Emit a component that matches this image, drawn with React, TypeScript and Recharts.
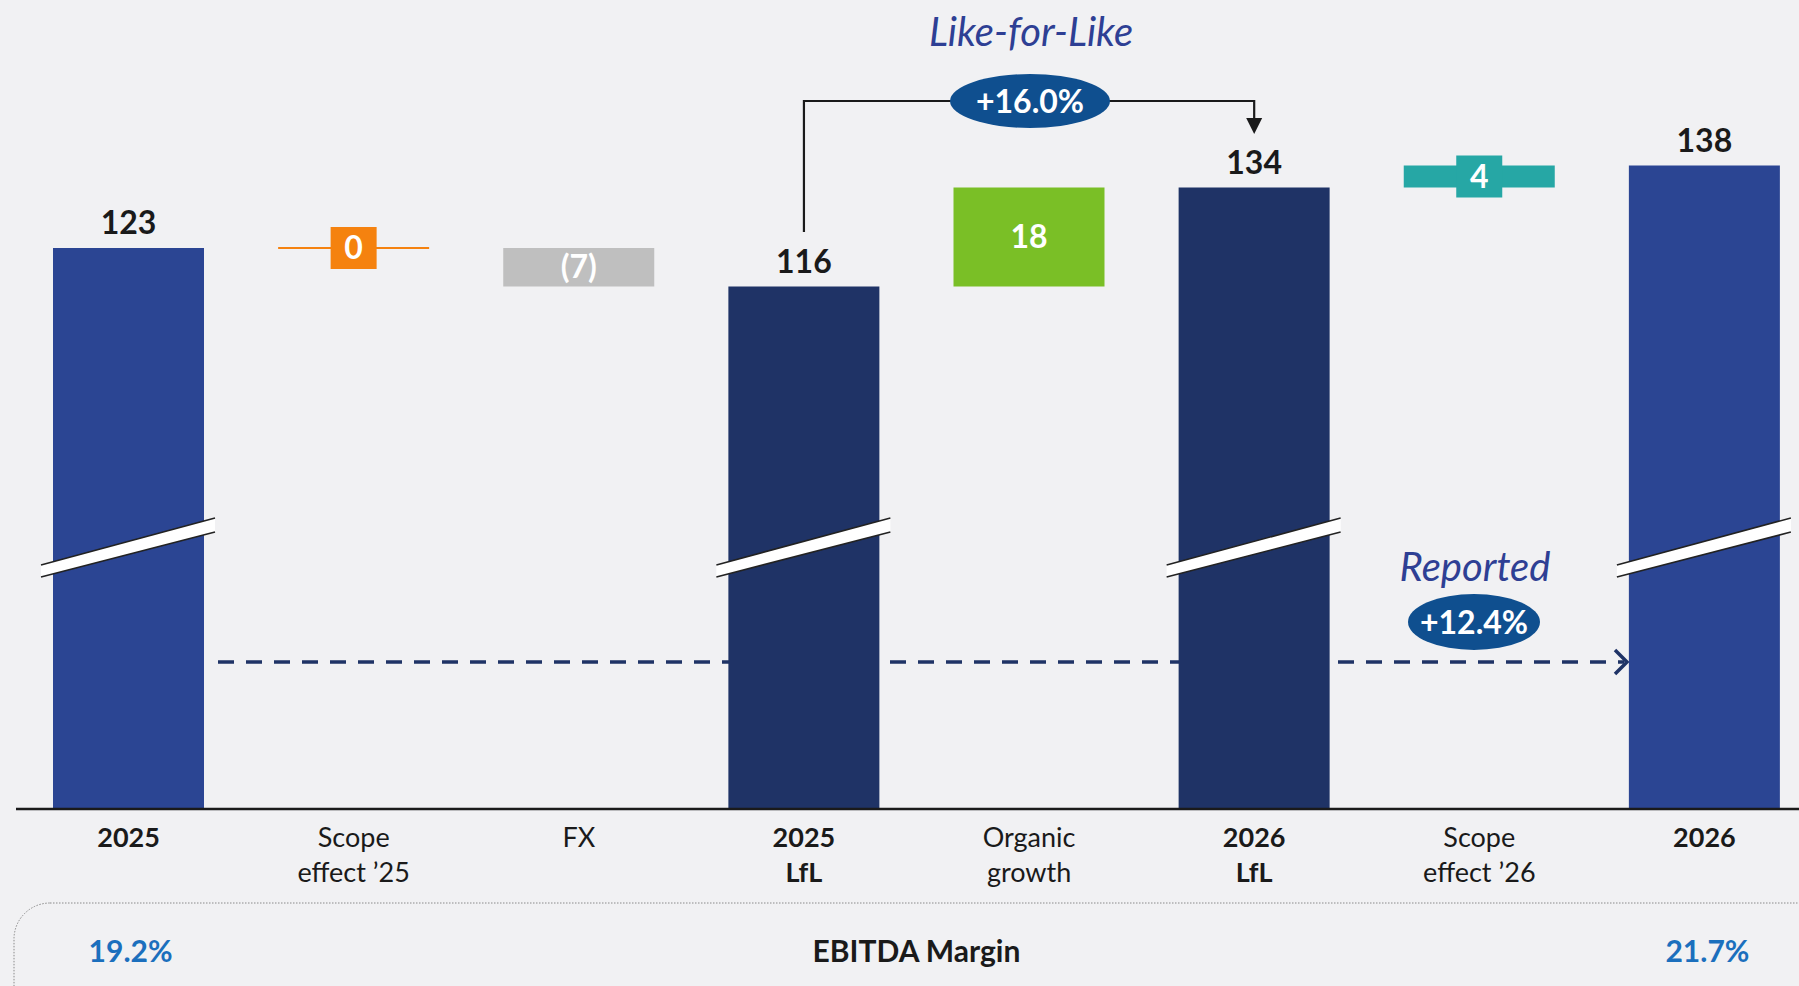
import React from "react";
import { ComposedChart, Bar, XAxis, YAxis } from "recharts";

// EBITDA bridge 2025 -> 2026
const categories = [
  "2025",
  "Scope effect ’25",
  "FX",
  "2025 LfL",
  "Organic growth",
  "2026 LfL",
  "Scope effect ’26",
  "2026",
];
const values = [123, 0, -7, 116, 18, 134, 4, 138];
// total = full column, step = floating bridge piece, scope = bridge piece with boxed label
const barKinds = ["total", "scope", "step", "total", "step", "total", "scope", "total"];
const barColors = ["#2b4593", "#f5820f", "#bfbfbf", "#1f3366", "#7abf26", "#1f3366", "#26a7a5", "#2b4593"];
const marginLabels = ["19.2%", "EBITDA Margin", "21.7%"];
const lflGrowth = "+16.0%";
const reportedGrowth = "+12.4%";

// build the stacked table: invisible base + visible piece
let running = 0;
const data = categories.map((name, i) => {
  const v = values[i];
  const kind = barKinds[i];
  if (kind === "total") {
    running = v;
    return { name, kind, base: 0, size: v, color: barColors[i], label: String(v) };
  }
  const start = running;
  running += v;
  return {
    name,
    kind,
    base: Math.min(start, running),
    size: Math.abs(v),
    color: barColors[i],
    label: v < 0 ? `(${-v})` : String(v),
  };
});

const W = 1830;
const H = 986;
const FONT = "Lato, 'Open Sans', sans-serif";
const PLOT_LEFT = 16;
const PLOT_RIGHT = 13;
const BAND = (W - PLOT_LEFT - PLOT_RIGHT) / categories.length;
const center = (i: number) => PLOT_LEFT + (i + 0.5) * BAND;
const BREAK_Y = 548;
const INK = "#1a1a1a";

const BridgeBar = (props: any) => {
  const { x, y, width, height, index } = props;
  const d = data[index] ?? props.payload;
  const cx = x + width / 2;
  const cy = y + height / 2;

  if (d.kind === "total") {
    const l = x - 12;
    const r = x + width + 11;
    return (
      <g>
        <rect x={x} y={y} width={width} height={height} fill={d.color} />
        <polygon points={`${l},${BREAK_Y + 17} ${r},${BREAK_Y - 30} ${r},${BREAK_Y - 16} ${l},${BREAK_Y + 29}`} fill="#ffffff" />
        <line x1={l} y1={BREAK_Y + 17} x2={r} y2={BREAK_Y - 30} stroke="#222" strokeWidth={1.6} />
        <line x1={l} y1={BREAK_Y + 29} x2={r} y2={BREAK_Y - 16} stroke="#222" strokeWidth={1.6} />
        <text x={cx} y={y - 14} textAnchor="middle" fontFamily={FONT} fontWeight={700} fontSize={32} fill={INK}>
          {d.label}
        </text>
      </g>
    );
  }

  if (d.kind === "scope") {
    return (
      <g>
        {height > 0 ? (
          <rect x={x} y={y} width={width} height={height} fill={d.color} />
        ) : (
          <line x1={x} y1={y} x2={x + width} y2={y} stroke={d.color} strokeWidth={2} />
        )}
        <rect x={cx - 23} y={cy - 21} width={46} height={42} fill={d.color} />
        <text x={cx} y={cy + 11} textAnchor="middle" fontFamily={FONT} fontWeight={700} fontSize={32} fill="#ffffff">
          {d.label}
        </text>
      </g>
    );
  }

  return (
    <g>
      <rect x={x} y={y} width={width} height={height} fill={d.color} />
      <text x={cx} y={cy + 11} textAnchor="middle" fontFamily={FONT} fontWeight={700} fontSize={32} fill="#ffffff">
        {d.label}
      </text>
    </g>
  );
};

const CategoryTick = (props: any) => {
  const { x, y, payload } = props;
  const name: string = payload.value;
  const i = categories.indexOf(name);
  const sp = name.indexOf(" ");
  const lines = sp < 0 ? [name] : [name.slice(0, sp), name.slice(sp + 1)];
  const bold = barKinds[i] === "total";
  return (
    <g>
      {lines.map((t, k) => (
        <text
          key={k}
          x={x}
          y={y + 38 + k * 35}
          textAnchor="middle"
          fontFamily={FONT}
          fontWeight={bold ? 700 : 400}
          fontSize={27}
          fill={INK}
        >
          {t}
        </text>
      ))}
    </g>
  );
};

const App = () => {
  const lfl0 = center(3);
  const lfl1 = center(5);
  return (
    <div
      style={{
        position: "absolute",
        left: 0,
        top: 0,
        width: 1799,
        height: H,
        overflow: "hidden",
        background: "#f1f1f3",
        fontFamily: FONT,
      }}
    >
      {/* dashed "reported" arrow sits behind the columns */}
      <svg width={W} height={H} style={{ position: "absolute", left: 0, top: 0 }}>
        <line x1={218} y1={662} x2={1624} y2={662} stroke="#1f3366" strokeWidth={3.5} strokeDasharray="16 12" />
        <polyline points="1615,650 1627,662 1615,674" fill="none" stroke="#1f3366" strokeWidth={3.5} />
      </svg>

      <div style={{ position: "absolute", left: 0, top: 0 }}>
        <ComposedChart
          width={W}
          height={H}
          data={data}
          margin={{ top: 50, right: PLOT_RIGHT, left: PLOT_LEFT, bottom: 0 }}
        >
          <XAxis
            dataKey="name"
            interval={0}
            height={177}
            tickLine={false}
            tickSize={0}
            tickMargin={0}
            axisLine={{ stroke: INK, strokeWidth: 2.5 }}
            tick={<CategoryTick />}
          />
          <YAxis hide domain={[21, 159]} allowDataOverflow />
          <Bar dataKey="base" stackId="w" fill="transparent" barSize={151} isAnimationActive={false} />
          <Bar dataKey="size" stackId="w" barSize={151} shape={BridgeBar} isAnimationActive={false} />
        </ComposedChart>
      </div>

      {/* annotations on top */}
      <svg width={W} height={H} style={{ position: "absolute", left: 0, top: 0, pointerEvents: "none" }}>
        <text x={1031} y={46} textAnchor="middle" fontFamily={FONT} fontStyle="italic" fontSize={40} fill="#2e3f94">
          Like-for-Like
        </text>
        <path d={`M ${lfl0} 232 V 101 H ${lfl1} V 120`} fill="none" stroke={INK} strokeWidth={2.2} />
        <polygon points={`${lfl1 - 8},118 ${lfl1 + 8},118 ${lfl1},134`} fill={INK} />
        <ellipse cx={1030} cy={101} rx={80} ry={27} fill="#0f4f8f" />
        <text x={1030} y={113} textAnchor="middle" fontFamily={FONT} fontWeight={700} fontSize={32} fill="#ffffff">
          {lflGrowth}
        </text>

        <text x={1475} y={581} textAnchor="middle" fontFamily={FONT} fontStyle="italic" fontSize={40} fill="#2e3f94">
          Reported
        </text>
        <ellipse cx={1474} cy={622} rx={66} ry={28} fill="#0f4f8f" />
        <text x={1474} y={634} textAnchor="middle" fontFamily={FONT} fontWeight={700} fontSize={32} fill="#ffffff">
          {reportedGrowth}
        </text>

        <rect x={14} y={903} width={1840} height={160} rx={36} fill="none" stroke="#8a8a8a" strokeWidth={1} strokeDasharray="1.5 1.5" />
        <text x={center(0) + 2} y={962} textAnchor="middle" fontFamily={FONT} fontWeight={700} fontSize={30} fill="#1b6fbd">
          {marginLabels[0]}
        </text>
        <text x={center(3.5)} y={962} textAnchor="middle" fontFamily={FONT} fontWeight={700} fontSize={30} fill={INK}>
          {marginLabels[1]}
        </text>
        <text x={center(7) + 3} y={962} textAnchor="middle" fontFamily={FONT} fontWeight={700} fontSize={30} fill="#1b6fbd">
          {marginLabels[2]}
        </text>
      </svg>
    </div>
  );
};

export default App;
